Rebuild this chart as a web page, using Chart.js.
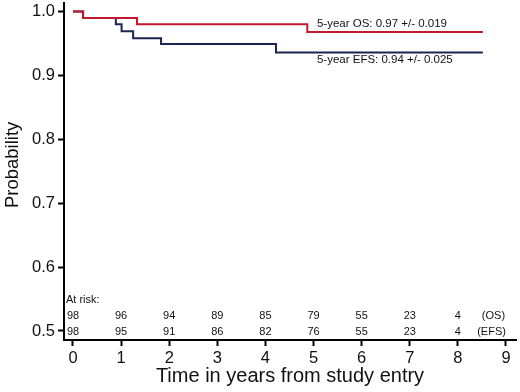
<!DOCTYPE html>
<html>
<head>
<meta charset="utf-8">
<script src="https://cdn.jsdelivr.net/npm/chart.js@4/dist/chart.umd.min.js"></script>
<style>
html,body{margin:0;padding:0;background:#fff;}
#wrap{width:520px;height:392px;}
</style>
</head>
<body>
<div id="wrap"><canvas id="c" width="520" height="392"></canvas></div>
<script>
// Data
const osTimes  = [0, 0.21, 1.33, 4.87, 8.52];
const osSurv   = [1.0, 0.99, 0.98, 0.968, 0.968];
const efsTimes = [0, 0.21, 0.89, 1.01, 1.25, 1.83, 4.22, 8.52];
const efsSurv  = [1.0, 0.99, 0.98, 0.969, 0.958, 0.949, 0.936, 0.936];
const xTicks = [0,1,2,3,4,5,6,7,8,9];
const yTicks = [0.5,0.6,0.7,0.8,0.9,1.0];
const riskTimes = [0,1,2,3,4,5,6,7,8];
const riskOS  = [98,96,94,89,85,79,55,23,4];
const riskEFS = [98,95,91,86,82,76,55,23,4];
const osLabel  = '5-year OS: 0.97 +/- 0.019';
const efsLabel = '5-year EFS: 0.94 +/- 0.025';
const yTitle = 'Probability';

const FONT = 'Liberation Sans, Arial, Helvetica, sans-serif';

const textPlugin = {
  id: 'kmText',
  afterDatasetsDraw(chart) {
    const ctx = chart.ctx;
    const xs = chart.scales.x, ys = chart.scales.y;
    const bottom = chart.chartArea.bottom;
    ctx.save();
    ctx.fillStyle = '#111';
    ctx.textBaseline = 'middle';
    // annotations
    ctx.font = '11.5px ' + FONT;
    ctx.textAlign = 'left';
    ctx.fillText(osLabel, xs.getPixelForValue(5.07), ys.getPixelForValue(0.98));
    ctx.fillText(efsLabel, xs.getPixelForValue(5.07), ys.getPixelForValue(0.924));
    // at risk table
    ctx.font = '11px ' + FONT;
    ctx.fillText('At risk:', chart.chartArea.left + 2, bottom - 40);
    ctx.textAlign = 'center';
    riskTimes.forEach((t, i) => {
      const px = xs.getPixelForValue(t);
      ctx.fillText(String(riskOS[i]), px, bottom - 24);
      ctx.fillText(String(riskEFS[i]), px, bottom - 8);
    });
    ctx.fillText('(OS)', xs.getPixelForValue(8.74), bottom - 24);
    ctx.fillText('(EFS)', xs.getPixelForValue(8.7), bottom - 8);
    // y axis title
    ctx.save();
    ctx.translate(12.5, ys.getPixelForValue(0.76));
    ctx.rotate(-Math.PI / 2);
    ctx.font = '18.5px ' + FONT;
    ctx.textAlign = 'center';
    ctx.fillText(yTitle, 0, 0);
    ctx.restore();
    ctx.restore();
  }
};

new Chart(document.getElementById('c'), {
  type: 'line',
  data: {
    datasets: [
      {
        label: 'OS',
        data: osTimes.map((t, i) => ({x: t, y: osSurv[i]})),
        borderColor: '#c3182d',
        borderWidth: 2,
        stepped: true,
        pointRadius: 0,
        fill: false
      },
      {
        label: 'EFS',
        data: efsTimes.map((t, i) => ({x: t, y: efsSurv[i]})),
        borderColor: '#1b2552',
        borderWidth: 2,
        stepped: true,
        pointRadius: 0,
        fill: false
      }
    ]
  },
  options: {
    responsive: false,
    animation: false,
    layout: { padding: { top: 3, right: 4, left: 0, bottom: 0 } },
    plugins: { legend: { display: false }, tooltip: { enabled: false } },
    scales: {
      x: {
        type: 'linear',
        min: -0.187,
        max: 9.208,
        afterBuildTicks: s => { s.ticks = xTicks.map(v => ({value: v})); },
        afterFit: s => { s.height = 52; s.paddingLeft = 0; s.paddingRight = 0; },
        grid: { drawOnChartArea: false, drawTicks: true, tickLength: 6, tickColor: '#000', tickWidth: 2 },
        border: { display: true, color: '#000', width: 2 },
        ticks: { color: '#111', font: { family: FONT, size: 16.5 }, padding: 3, maxRotation: 0, callback: v => String(v) },
        title: { display: true, text: 'Time in years from study entry', color: '#111', font: { family: FONT, size: 20 }, padding: { top: 0, bottom: 4 } }
      },
      y: {
        type: 'linear',
        min: 0.4859,
        max: 1.0133,
        afterBuildTicks: s => { s.ticks = yTicks.map(v => ({value: v})); },
        afterFit: s => { s.width = 64; s.paddingTop = 0; s.paddingBottom = 0; },
        grid: { drawOnChartArea: false, drawTicks: true, tickLength: 6, tickColor: '#000', tickWidth: 2 },
        border: { display: true, color: '#000', width: 2 },
        ticks: { color: '#111', font: { family: FONT, size: 16.5 }, padding: 3, callback: v => Number(v).toFixed(1) },
        title: { display: false }
      }
    }
  },
  plugins: [textPlugin]
});
</script>
</body>
</html>
